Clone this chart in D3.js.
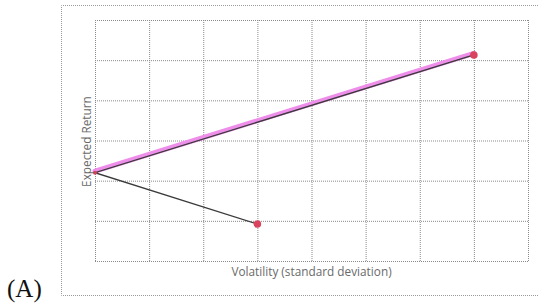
<!DOCTYPE html>
<html>
<head>
<meta charset="utf-8">
<script src="https://cdn.jsdelivr.net/npm/d3@7"></script>
<style>
  body { margin: 0; background: #fff; }
  .grid line { stroke: #8a8a8a; stroke-dasharray: 1,1; }
  .grid path { display: none; }
  .ttl { font-family: "Open Sans", sans-serif; font-size: 11.8px; fill: #6a6a6a; }
</style>
</head>
<body>
<div id="chart"></div>
<script>
// portfolio points (volatility, expected return), in grid units
let volatility = [3.0, 0.0, 7.0];
let expReturn = [0.92, 2.2, 5.13];
let labels = ["Asset 1", "Min variance", "Asset 2"];
let xTicks = [0, 1, 2, 3, 4, 5, 6, 7, 8];
let yTicks = [0, 1, 2, 3, 4, 5, 6];

let W = 539, H = 304;
let margin = {top: 20, right: 11, bottom: 43, left: 95};
let width = W - margin.left - margin.right;
let height = H - margin.top - margin.bottom;

let svg = d3.select("#chart").append("svg")
    .attr("width", W)
    .attr("height", H);

// outer chart frame (runs off the right edge)
svg.append("path")
    .attr("d", "M560,5.5H61.5V295.5H560")
    .attr("fill", "none")
    .attr("stroke", "#9a9a9a")
    .attr("stroke-dasharray", "1,1");

let g = svg.append("g")
    .attr("transform", "translate(" + margin.left + "," + margin.top + ")");

let x = d3.scaleLinear().domain([0, 8]).range([0, width]);
let y = d3.scaleLinear().domain([0, 6]).range([height, 0]);

g.append("g")
    .attr("class", "grid")
    .call(d3.axisBottom(x).tickValues(xTicks).tickSize(height).tickFormat(""));

g.append("g")
    .attr("class", "grid")
    .call(d3.axisLeft(y).tickValues(yTicks).tickSize(-width).tickFormat(""));

let data = volatility.map(function(v, i) {
    return {x: v, y: expReturn[i], name: labels[i]};
});

let line = d3.line()
    .x(function(d) { return x(d.x); })
    .y(function(d) { return y(d.y); });

// efficient frontier highlight
g.append("path")
    .datum(data.slice(1))
    .attr("d", line)
    .attr("transform", "translate(0,-1.5)")
    .attr("fill", "none")
    .attr("stroke", "#ee8eea")
    .attr("stroke-width", 5)
    .attr("stroke-linecap", "round");

g.append("path")
    .datum(data)
    .attr("d", line)
    .attr("fill", "none")
    .attr("stroke", "#3a3a3a")
    .attr("stroke-width", 1.4);

g.selectAll("circle")
    .data([data[0], data[2]])
    .enter().append("circle")
    .attr("cx", function(d) { return x(d.x); })
    .attr("cy", function(d) { return y(d.y); })
    .attr("r", 3.8)
    .attr("fill", "#d9435e");

g.append("circle")
    .attr("cx", x(data[1].x))
    .attr("cy", y(data[1].y))
    .attr("r", 2)
    .attr("fill", "#d9435e");

// axis titles
g.append("text")
    .attr("class", "ttl")
    .attr("x", width / 2)
    .attr("y", height + 15)
    .attr("text-anchor", "middle")
    .text("Volatility (standard deviation)");

g.append("text")
    .attr("class", "ttl")
    .attr("transform", "translate(-4," + (height / 2 + 1) + ") rotate(-90)")
    .attr("text-anchor", "middle")
    .text("Expected Return");

svg.append("text")
    .attr("x", 7)
    .attr("y", 297)
    .attr("font-family", "Liberation Serif, serif")
    .attr("font-size", 25)
    .attr("fill", "#111")
    .text("(A)");
</script>
</body>
</html>
